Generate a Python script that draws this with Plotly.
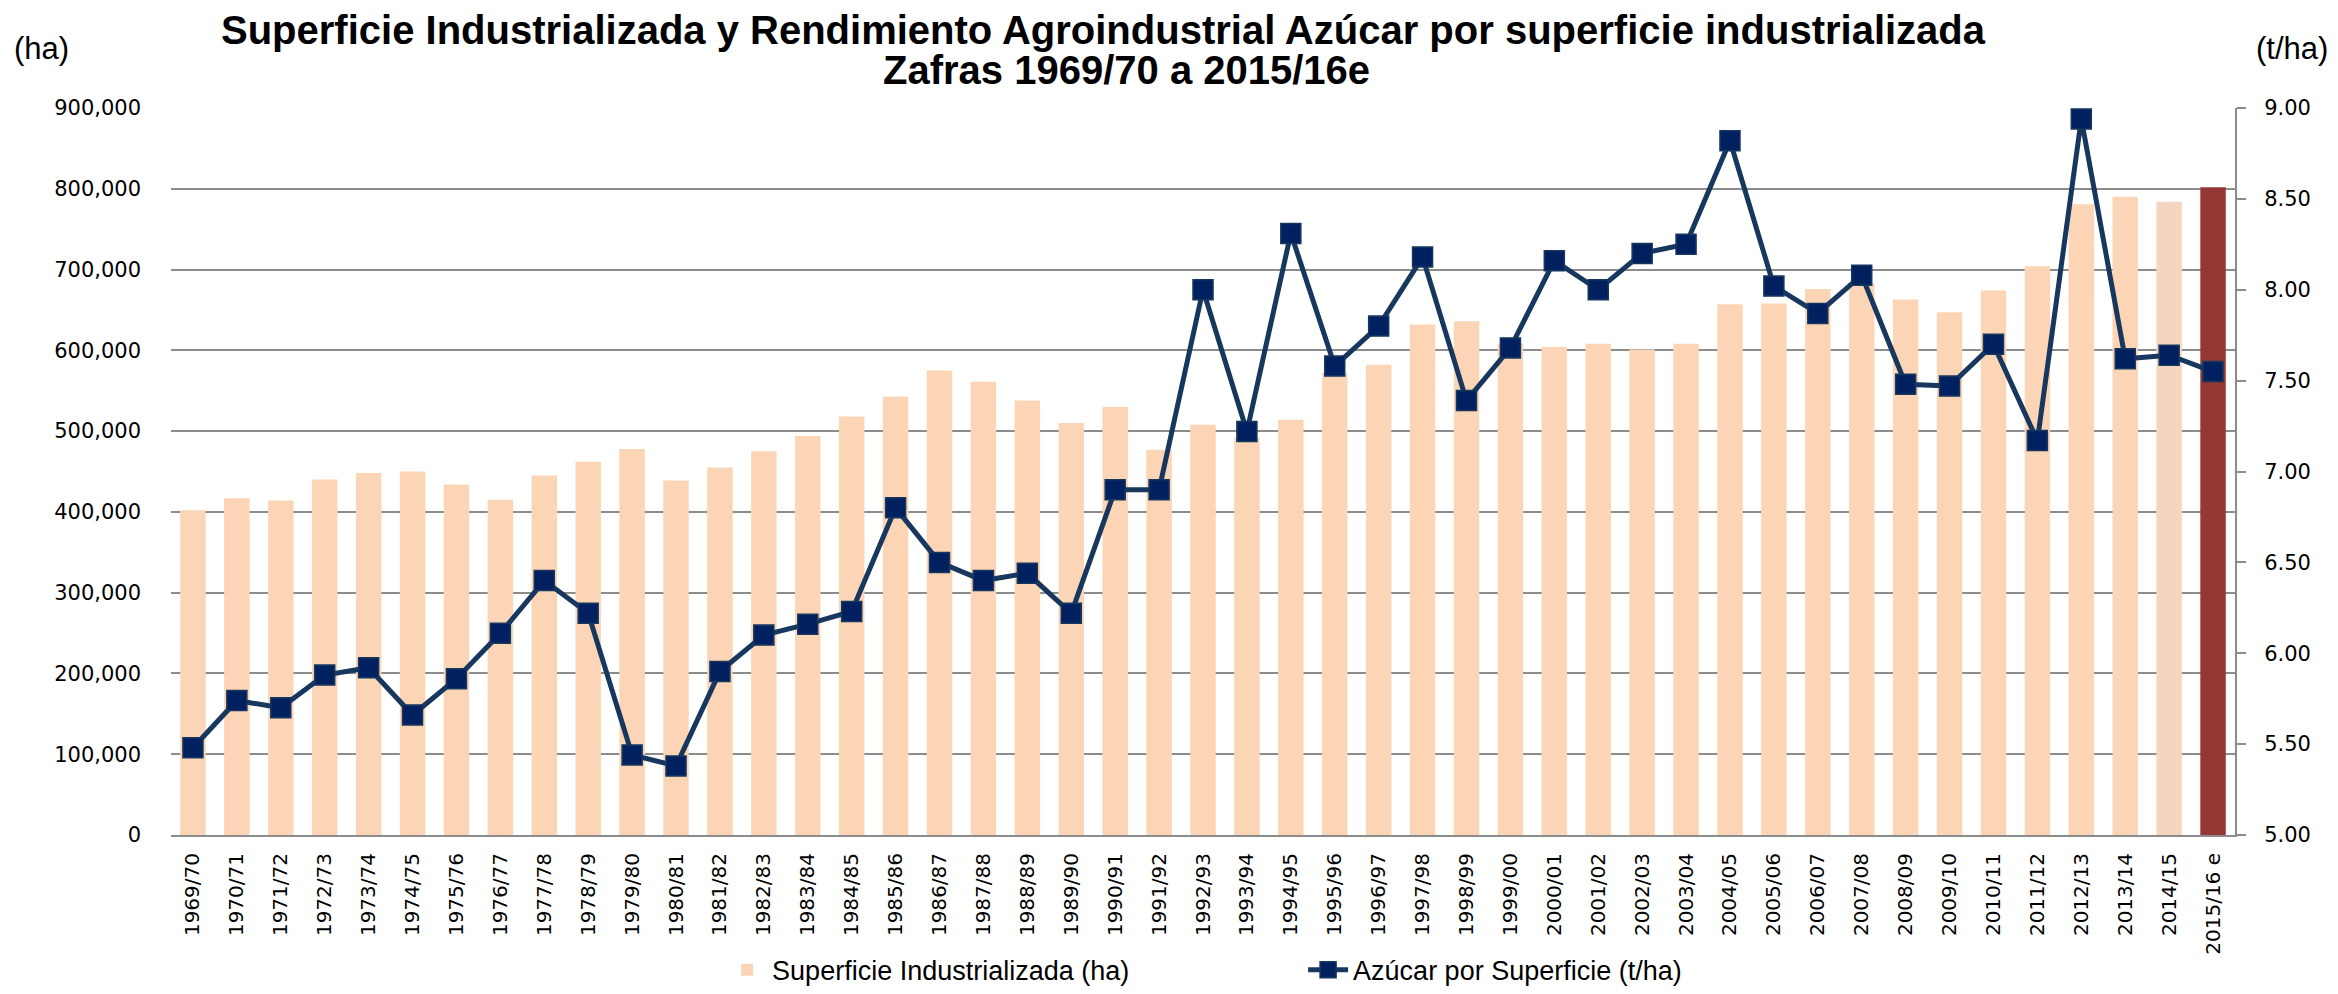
import plotly.graph_objects as go

categories = ["1969/70", "1970/71", "1971/72", "1972/73", "1973/74", "1974/75", "1975/76",
              "1976/77", "1977/78", "1978/79", "1979/80", "1980/81", "1981/82", "1982/83",
              "1983/84", "1984/85", "1985/86", "1986/87", "1987/88", "1988/89", "1989/90",
              "1990/91", "1991/92", "1992/93", "1993/94", "1994/95", "1995/96", "1996/97",
              "1997/98", "1998/99", "1999/00", "2000/01", "2001/02", "2002/03", "2003/04",
              "2004/05", "2005/06", "2006/07", "2007/08", "2008/09", "2009/10", "2010/11",
              "2011/12", "2012/13", "2013/14", "2014/15", "2015/16 e"]

superficie_ha = [402000, 417000, 414000, 440000, 448000, 450000, 434000, 415000, 445000, 462000,
                 478000, 439000, 455000, 475000, 494000, 518000, 543000, 575000, 561000, 538000,
                 510000, 530000, 477000, 508000, 492000, 514000, 572000, 582000, 632000, 636000,
                 608000, 604000, 608000, 601000, 608000, 657000, 658000, 676000, 683000, 663000,
                 647000, 674000, 704000, 781000, 790000, 784000, 802000]

azucar_t_ha = [5.48, 5.74, 5.70, 5.88, 5.92, 5.66, 5.86, 6.11, 6.40, 6.22, 5.44, 5.38,
               5.90, 6.10, 6.16, 6.23, 6.80, 6.50, 6.40, 6.44, 6.22, 6.90, 6.90, 8.00,
               7.22, 8.31, 7.58, 7.80, 8.18, 7.39, 7.68, 8.16, 8.00, 8.20, 8.25, 8.82,
               8.02, 7.87, 8.08, 7.48, 7.47, 7.70, 7.17, 8.94, 7.62, 7.64, 7.55]

bar_colors = ["#FBD5B5"] * (len(categories) - 2) + ["#F5D5C2", "#953735"]

GRID = "#8C8C8C"
YFONT = dict(family="DejaVu Sans", size=21, color="#000000")
XFONT = dict(family="DejaVu Sans", size=20, color="#000000")

fig = go.Figure()
fig.add_trace(go.Bar(
    x=categories, y=superficie_ha, name="Superficie Industrializada (ha)",
    marker=dict(color=bar_colors, line=dict(width=0)), yaxis="y",
))
fig.add_trace(go.Scatter(
    x=categories, y=azucar_t_ha, name="Azúcar por Superficie (t/ha)", yaxis="y2",
    mode="lines+markers",
    line=dict(color="#17375E", width=5),
    marker=dict(symbol="square", size=20, color="#002060", line=dict(color="#17375E", width=1.5)),
))

fig.update_layout(
    width=2330, height=986,
    margin=dict(l=163, r=103, t=100, b=159, autoexpand=False),
    paper_bgcolor="white", plot_bgcolor="white",
    bargap=0.42,
    showlegend=True,
    legend=dict(orientation="h", x=0.267, xanchor="left", y=-0.186, yanchor="middle",
                font=dict(family="Liberation Sans", size=27, color="#000000"),
                entrywidth=526, itemwidth=40),
    xaxis=dict(type="category", range=[-0.5, len(categories) - 0.5], tickangle=-90,
               tickfont=XFONT, showgrid=False, automargin=False,
               showline=True, linecolor=GRID, linewidth=2, ticks="",
               ticklabelstandoff=8),
    yaxis=dict(range=[0, 900000], dtick=100000, tickformat=",d", tickfont=YFONT,
               showgrid=True, gridcolor=GRID, gridwidth=1.5, zeroline=False, automargin=False,
               showline=False, ticks="", ticklabelstandoff=29),
    yaxis2=dict(range=[5, 9], dtick=0.5, tickformat=".2f", tickfont=YFONT,
                overlaying="y", side="right", showgrid=False, zeroline=False, automargin=False,
                showline=True, linecolor=GRID, linewidth=2, ticks="outside",
                ticklen=9, tickcolor=GRID, tickwidth=2, ticklabelstandoff=14),
    annotations=[
        dict(text="<b>Superficie Industrializada y Rendimiento Agroindustrial Azúcar por superficie industrializada</b>",
             xref="paper", yref="paper", x=0.452, y=1.107, xanchor="center", yanchor="middle",
             showarrow=False, font=dict(family="Liberation Sans", size=40, color="#000000")),
        dict(text="<b>Zafras 1969/70 a 2015/16e</b>",
             xref="paper", yref="paper", x=0.463, y=1.052, xanchor="center", yanchor="middle",
             showarrow=False, font=dict(family="Liberation Sans", size=40, color="#000000")),
        dict(text="(ha)", xref="paper", yref="paper", x=-0.077, y=1.0825,
             xanchor="left", yanchor="middle", showarrow=False,
             font=dict(family="Liberation Sans", size=31, color="#000000")),
        dict(text="(t/ha)", xref="paper", yref="paper", x=1.046, y=1.0825,
             xanchor="right", yanchor="middle", showarrow=False,
             font=dict(family="Liberation Sans", size=31, color="#000000")),
    ],
)

fig.write_html("out.html")
